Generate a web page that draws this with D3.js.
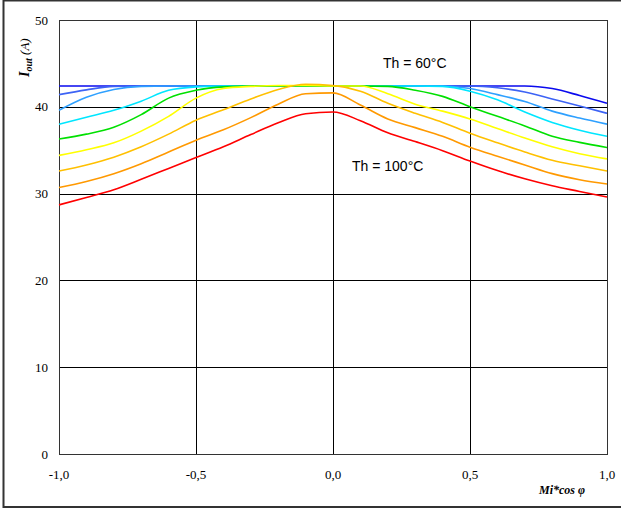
<!DOCTYPE html>
<html>
<head>
<meta charset="utf-8">
<script src="https://cdn.jsdelivr.net/npm/d3@7"></script>
<style>
	body { margin: 0; background: #fff; }
	svg { display: block; }
	.tick-label { font-family: "Liberation Serif", "Times New Roman", serif; font-size: 13px; fill: #000; }
	.note { font-family: "Liberation Sans", Arial, sans-serif; font-size: 14px; fill: #000; }
</style>
</head>
<body>
<div id="chart"></div>
<script>
// x values (Mi*cos phi)
const mi = [-1.0, -0.9, -0.8, -0.7, -0.6, -0.5, -0.4, -0.3, -0.2, -0.1, 0.0,
	0.1, 0.2, 0.3, 0.4, 0.5, 0.6, 0.7, 0.8, 0.9, 1.0];

// Iout (A) for each heatsink temperature
const t60  = [42.4, 42.4, 42.4, 42.4, 42.4, 42.4, 42.4, 42.4, 42.4, 42.4, 42.4, 42.4, 42.4, 42.4, 42.4, 42.4, 42.4, 42.4, 42.1, 41.3, 40.4];
const t65  = [41.4, 41.95, 42.35, 42.4, 42.4, 42.4, 42.4, 42.4, 42.4, 42.4, 42.4, 42.4, 42.4, 42.4, 42.4, 42.4, 42.2, 41.7, 40.9, 40.1, 39.25];
const t70  = [39.6, 41.1, 42.0, 42.35, 42.4, 42.4, 42.4, 42.4, 42.4, 42.4, 42.4, 42.4, 42.4, 42.4, 42.4, 42.1, 41.4, 40.6, 39.5, 38.7, 38.0];
const t75  = [38.0, 38.8, 39.6, 40.65, 41.9, 42.3, 42.4, 42.4, 42.4, 42.4, 42.4, 42.4, 42.4, 42.4, 42.35, 41.8, 40.8, 39.4, 38.2, 37.3, 36.6];
const t80  = [36.3, 36.85, 37.65, 39.1, 41.0, 41.9, 42.3, 42.4, 42.4, 42.4, 42.4, 42.4, 42.35, 41.9, 41.2, 40.0, 38.9, 37.8, 36.6, 35.9, 35.3];
const t85  = [34.4, 35.05, 35.85, 37.2, 38.9, 41.0, 42.1, 42.35, 42.45, 42.45, 42.4, 42.4, 41.5, 40.3, 39.5, 38.6, 37.5, 36.4, 35.4, 34.6, 34.0];
const t90  = [32.6, 33.3, 34.2, 35.4, 36.85, 38.45, 39.65, 40.9, 42.0, 42.6, 42.45, 41.8, 40.4, 39.25, 38.2, 36.95, 35.85, 34.8, 33.85, 33.2, 32.6];
const t95  = [30.7, 31.4, 32.3, 33.45, 34.8, 36.15, 37.35, 38.75, 40.3, 41.5, 41.6, 40.2, 38.6, 37.6, 36.6, 35.35, 34.3, 33.3, 32.3, 31.6, 31.1];
const t100 = [28.7, 29.55, 30.45, 31.65, 32.9, 34.15, 35.4, 36.8, 38.15, 39.2, 39.4, 38.4, 37.0, 36.0, 34.95, 33.75, 32.65, 31.7, 30.9, 30.25, 29.6];

const seriesList = [t60, t65, t70, t75, t80, t85, t90, t95, t100];
const colors = ["#0a0aee", "#3d63f5", "#2ea0ff", "#00e6ff", "#00e000", "#ffff00", "#ffc000", "#ff9900", "#ff0000"];

const xTicks = [-1.0, -0.5, 0.0, 0.5, 1.0];
const yTicks = [0, 10, 20, 30, 40, 50];

const width = 621, height = 509;
const margin = { left: 59, right: 14, top: 20, bottom: 55 };

let svg = d3.select("#chart").append("svg")
	.attr("width", width)
	.attr("height", height);

// outer frame
svg.append("rect")
	.attr("x", 3.5).attr("y", 0.5)
	.attr("width", 620).attr("height", 506.5)
	.attr("fill", "#fff")
	.attr("stroke", "#333")
	.attr("stroke-width", 2);

let x = d3.scaleLinear().domain([-1, 1]).range([margin.left, width - margin.right]);
let y = d3.scaleLinear().domain([0, 50]).range([height - margin.bottom, margin.top]);

// comma decimals and plain hyphen like the original
let fmt = d => d3.format(".1f")(d).replace(".", ",").replace("\u2212", "-");

// grid
let g = svg.append("g");
g.selectAll("line.gx")
	.data(xTicks.slice(1, -1))
	.enter().append("line")
	.attr("x1", d => Math.round(x(d)) + 0.5).attr("x2", d => Math.round(x(d)) + 0.5)
	.attr("y1", y(50)).attr("y2", y(0))
	.attr("stroke", "#000");
g.selectAll("line.gy")
	.data(yTicks.slice(1, -1))
	.enter().append("line")
	.attr("y1", d => Math.round(y(d)) + 0.5).attr("y2", d => Math.round(y(d)) + 0.5)
	.attr("x1", x(-1)).attr("x2", x(1))
	.attr("stroke", "#000");

// plot border
g.append("rect")
	.attr("x", x(-1) + 0.5).attr("y", y(50) + 0.5)
	.attr("width", x(1) - x(-1)).attr("height", y(0) - y(50))
	.attr("fill", "none")
	.attr("stroke", "#333");

// curves
let line = d3.line()
	.x((d, i) => x(mi[i]))
	.y(d => y(d))
	.curve(d3.curveMonotoneX);

svg.append("g").selectAll("path")
	.data(seriesList)
	.enter().append("path")
	.attr("d", line)
	.attr("fill", "none")
	.attr("stroke", (d, i) => colors[i])
	.attr("stroke-width", 1.6);

// tick labels
svg.selectAll("text.yl")
	.data(yTicks)
	.enter().append("text")
	.attr("class", "tick-label")
	.attr("x", 48).attr("y", d => y(d) + 4.5)
	.attr("text-anchor", "end")
	.text(d => d);

svg.selectAll("text.xl")
	.data(xTicks)
	.enter().append("text")
	.attr("class", "tick-label")
	.attr("x", d => x(d)).attr("y", 479)
	.attr("text-anchor", "middle")
	.text(fmt);

// axis titles
let yt = svg.append("text")
	.attr("class", "tick-label")
	.attr("transform", "translate(29,77) rotate(-90)")
	.style("font-weight", "bold")
	.style("font-style", "italic");
yt.append("tspan").text("I").style("font-size", "14px");
yt.append("tspan").text("out").attr("dy", 3).style("font-size", "10px");
yt.append("tspan").text(" (A)").attr("dy", -3).style("font-size", "13px").style("font-weight", "normal");

svg.append("text")
	.attr("class", "tick-label")
	.attr("x", 585).attr("y", 494)
	.attr("text-anchor", "end")
	.style("font-weight", "bold")
	.style("font-style", "italic")
	.style("font-size", "12px")
	.text("Mi*cos φ");

// annotations
svg.append("text").attr("class", "note")
	.attr("x", 383).attr("y", 68)
	.text("Th = 60°C");
svg.append("text").attr("class", "note")
	.attr("x", 352).attr("y", 171)
	.text("Th = 100°C");
</script>
</body>
</html>
